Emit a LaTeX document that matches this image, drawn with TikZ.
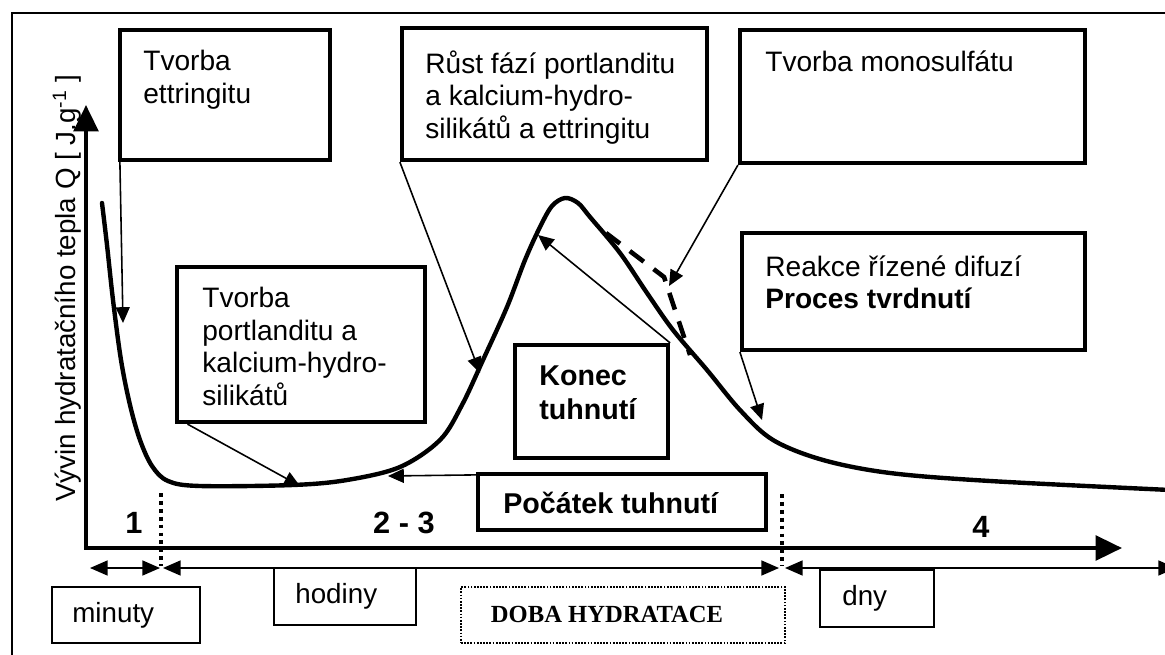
\documentclass[tikz,border=0pt]{standalone}
\usepackage{fontspec}
\setmainfont{Liberation Sans}
\newfontfamily\serifface{Liberation Serif}
\usetikzlibrary{arrows.meta,fit,calc}
\begin{document}
\begin{tikzpicture}[x=0.02cm,y=-0.02cm,
  box/.style={draw, line width=2.4pt, inner sep=0pt},
  tbox/.style={draw, line width=1.1pt, inner sep=0pt},
  dbox/.style={draw, line width=1.1pt, dash pattern=on 1pt off 0.8pt, inner sep=0pt},
  txt/.style={inner sep=0pt, align=left, anchor=north west, font=\fontsize{16}{18.5}\selectfont},
  btxt/.style={inner sep=0pt, align=left, anchor=north west, font=\fontsize{16.3}{19.8}\selectfont\bfseries},
  num/.style={inner sep=0pt, anchor=base, font=\fontsize{17.5}{20}\selectfont\bfseries},
  small/.style={inner sep=0pt, anchor=base west, font=\fontsize{15.8}{18}\selectfont},
  hcurve/.style={line width=2.5pt, line join=round, line cap=round},
  conn/.style={line width=0.9pt, -{Triangle[length=9pt,width=8pt]}},
  tbar/.style={line width=0.9pt, {Triangle[length=10pt,width=8.5pt]}-{Triangle[length=10pt,width=8.5pt]}},
  axisline/.style={line width=2.2pt, {Triangle[length=15pt,width=14pt]}-{Triangle[length=15pt,width=14pt]}},
  dotline/.style={line width=2.2pt, dash pattern=on 2.2pt off 2.3pt},
  dashline/.style={line width=2.6pt, dash pattern=on 10pt off 7pt}
]
\useasboundingbox (0,0) rectangle (1165,655);
\fill[white] (0,0) rectangle (1165,655);

% frame
\draw[line width=1.3pt] (12,655) -- (12,13) -- (1165,13);

% axes
\coordinate (ytip) at (86,105);
\coordinate (xtip) at (1122,548);
\draw[axisline] (ytip) |- (xtip);
\node[rotate=90, inner sep=0pt, font=\fontsize{15.8}{18}\selectfont] (ylab) at (67,288)
  {Vývin hydratačního tepla Q [ J.g\textsuperscript{-1} ]};

% curve
\draw[hcurve] plot[smooth, tension=0.55] coordinates {(102,203) (107,245) (113,300) (121,360) (130,405) (140,440) (152,466) (168,481) (200,486) (293,485) (347,480) (400,467) (440,440) (462,405) (483,360) (507,307) (525,260) (540,227) (552,206) (565,198) (578,203) (590,217) (620,253) (647,293) (673,330) (707,370) (740,410) (773,440) (823,460) (890,473) (990,481) (1170,490)};

% boxes
\node[box, fit={(120,30) (330,160)}] (ett) {};
\node[box, fit={(402,28) (707,160)}] (rust) {};
\node[box, fit={(740,30) (1085,163)}] (mono) {};
\node[box, fit={(742,233) (1085,350)}] (reak) {};
\node[box, fit={(177,267) (425,422)}] (port) {};
\node[box, fit={(515,345) (668,458)}] (konec) {};
\node[box, fit={(478,474) (766,530)}] (pt) {};
\node[tbox, fit={(52,587) (200,643)}] (minb) {};
\node[tbox, fit={(274,568) (416,625)}] (hodb) {};
\node[dbox, fit={(461,587) (785,643)}] (dobab) {};
\node[tbox, fit={(820,570) (934,627)}] (dnyb) {};

% texts
\node[txt] (ettT) at (143,50) {Tvorba\\ettringitu};
\node[txt] (rustT) at (425,50) {Růst fází portlanditu\\a kalcium-hydro-\\silikátů a ettringitu};
\node[txt] (monoT) at (765,50) {Tvorba monosulfátu};
\node[txt] (reakT) at (765,255) {Reakce řízené difuzí\\\textbf{Proces tvrdnutí}};
\node[txt] (portT) at (202,287) {Tvorba\\portlanditu a\\kalcium-hydro-\\silikátů};
\node[btxt] (konecT) at (539,365) {Konec\\tuhnutí};
\node[btxt] (ptT) at (503,492) {Počátek tuhnutí};
\node[small] (minT) at (72,622) {minuty};
\node[small] (hodT) at (295,603) {hodiny};
\node[small] (dnyT) at (842,605) {dny};
\node[inner sep=0pt, anchor=base, font=\serifface\fontsize{14}{16}\selectfont\bfseries] (dobaT) at (607,622) {DOBA HYDRATACE};
\node[num] (n1) at (134,533) {1};
\node[num] (n23) at (404,533) {2 - 3};
\node[num] (n4) at (981,537) {4};

% connectors
\coordinate (a1) at (123,323);
\coordinate (a2) at (300,486);
\coordinate (a3) at (388,476);
\coordinate (a4) at (480,373);
\coordinate (a5) at (538,235);
\coordinate (a6) at (669,286);
\coordinate (a7) at (762,420);
\draw[conn] ($(ett.south west)+(2,0)$) -- (a1);
\draw[conn] ($(port.south west)!0.05!(port.south east)$) -- (a2);
\draw[conn] ($(pt.north west)+(0,3)$) -- (a3);
\draw[conn] (rust.south west) -- (a4);
\draw[conn] (konec.north east) -- (a5);
\draw[conn] (mono.south west) -- (a6);
\draw[conn] (reak.south west) -- (a7);

% dashed polyline
\coordinate (d1) at (606,233);
\coordinate (d2) at (664,277);
\coordinate (d3) at (690,355);
\draw[dashline] (d1) -- (d2) -- (d3);

% time bar
\coordinate (tb0) at (90,568);
\coordinate (tb1) at (160,568);
\coordinate (tb2) at (163,568);
\coordinate (tb3) at (779,568);
\coordinate (tb4) at (785,568);
\coordinate (tb5) at (1176,568);
\draw[tbar] (tb0) -- (tb1);
\draw[tbar] (tb2) -- (tb3);
\draw[tbar] (tb4) -- (tb5);

% dotted separators
\coordinate (s1a) at (161,493);
\coordinate (s1b) at (161,566);
\coordinate (s2a) at (782,494);
\coordinate (s2b) at (782,566);
\draw[dotline] (s1a) -- (s1b);
\draw[dotline] (s2a) -- (s2b);
\end{tikzpicture}
\end{document}
